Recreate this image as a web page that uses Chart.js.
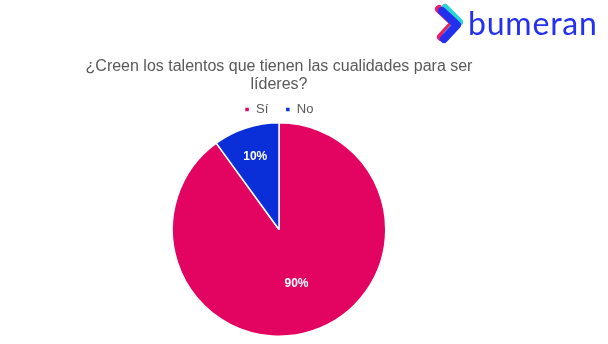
<!DOCTYPE html>
<html>
<head>
<meta charset="utf-8">
<script src="https://cdn.jsdelivr.net/npm/chart.js@4"></script>
<style>
  html, body { margin: 0; padding: 0; background: #fff; }
  #wrap { position: relative; width: 608px; height: 344px; }
  #logo { position: absolute; left: 430px; top: 0px; width: 178px; height: 46px; }
  #logo svg { position: absolute; left: 0; top: 0; }
  #logo span {
    position: absolute; left: 38px; top: 0px; line-height: 46px;
    font-family: "Lato", sans-serif; font-size: 32px; color: #2430f0;
    letter-spacing: 0.8px; white-space: nowrap;
  }
</style>
</head>
<body>
<div id="wrap">
  <canvas id="pieChart" width="608" height="344"></canvas>
  <div id="logo">
    <svg width="36" height="46" viewBox="0 0 36 46">
      <polyline points="9,9 24,23 11,37" fill="none" stroke="#e81f6a" stroke-width="8" stroke-linecap="round" stroke-linejoin="round"/>
      <polyline points="15,8 29,22 17,35" fill="none" stroke="#2ad6d2" stroke-width="8" stroke-linecap="round" stroke-linejoin="round"/>
      <polyline points="12,11 27,25 14,39" fill="none" stroke="#2430f0" stroke-width="8" stroke-linecap="round" stroke-linejoin="round"/>
    </svg>
    <span>bumeran</span>
  </div>
</div>
<script>
// ---------------------- Chart data -----------------------------
const categories = ["Sí", "No"];
const values = [90, 10];
const sliceColors = ["#e30361", "#0a2ed8"];

// Radius factor for each percentage label
const labelRadius = [0.53, 0.72];

// Draws the white percentage labels inside the slices
const pctLabels = {
  id: 'pctLabels',
  afterDatasetsDraw(chart) {
    const ctx = chart.ctx;
    const meta = chart.getDatasetMeta(0);
    const total = values.reduce((a, b) => a + b, 0);
    ctx.save();
    ctx.font = 'bold 12px "Liberation Sans", Arial, sans-serif';
    ctx.fillStyle = '#ffffff';
    ctx.textAlign = 'center';
    ctx.textBaseline = 'middle';
    meta.data.forEach((arc, i) => {
      const mid = (arc.startAngle + arc.endAngle) / 2;
      const r = arc.outerRadius * labelRadius[i];
      const x = arc.x + Math.cos(mid) * r;
      const y = arc.y + Math.sin(mid) * r;
      ctx.fillText(Math.round(values[i] / total * 100) + '%', x, y);
    });
    ctx.restore();
  }
};

const ctx = document.getElementById('pieChart');
const myChart = new Chart(ctx, {
  type: 'pie',
  data: {
    labels: categories,
    datasets: [{
      data: values,
      backgroundColor: sliceColors,
      borderColor: '#ffffff',
      borderWidth: 1.5
    }]
  },
  options: {
    responsive: false,
    animation: false,
    layout: {
      padding: { top: 0, bottom: 7, left: 0, right: 50 }
    },
    plugins: {
      title: {
        display: true,
        text: ['¿Creen los talentos que tienen las cualidades para ser', 'líderes?'],
        color: '#595959',
        font: { family: '"Liberation Sans", Arial, sans-serif', size: 16, weight: 'normal', lineHeight: '18px' },
        padding: { top: 58, bottom: -8 }
      },
      legend: {
        position: 'top',
        maxHeight: 36,
        labels: {
          color: '#595959',
          font: { family: '"Liberation Sans", Arial, sans-serif', size: 13 },
          usePointStyle: true,
          pointStyle: 'rect',
          boxWidth: 5,
          boxHeight: 5,
          padding: 17
        }
      },
      tooltip: { enabled: false }
    }
  },
  plugins: [pctLabels]
});
</script>
</body>
</html>
